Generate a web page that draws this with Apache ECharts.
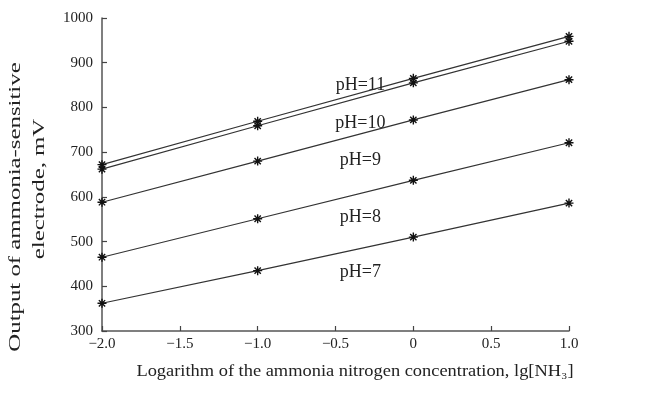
<!DOCTYPE html>
<html>
<head>
<meta charset="utf-8">
<style>
  html, body { margin: 0; padding: 0; background: #fff; }
  #chart { width: 647px; height: 394px; }
</style>
<script src="https://cdn.jsdelivr.net/npm/echarts@6/dist/echarts.min.js"></script>
</head>
<body>
<div id="chart"></div>
<script>
// lg[NH3] values where the electrode output was measured
const lgNH3 = [-2, -1, 0, 1];

// electrode output (mV) for each pH
const pH7 = [362, 435, 510, 586];
const pH8 = [465, 551, 637, 721];
const pH9 = [588, 680, 772, 862];
const pH10 = [662, 759, 855, 948];
const pH11 = [672, 769, 865, 959];

const seriesNames = ['pH=7', 'pH=8', 'pH=9', 'pH=10', 'pH=11'];
const seriesValues = [pH7, pH8, pH9, pH10, pH11];

// where each curve's name is written, in axis units
const labelAt = [
  [-0.34, 432],
  [-0.34, 555],
  [-0.34, 682],
  [-0.34, 765],
  [-0.34, 850]
];

const FONT = '"Liberation Serif", "DejaVu Serif", serif';
const INK = '#222';

function tickText(v) {
  if (v === 0) return '0';
  const s = Math.abs(v).toFixed(1);
  return v < 0 ? '\u2212' + s : s;
}

// asterisk-like marker drawn as strokes
const starMarker = 'path://M5,0L5,10M0,5L10,5M1.5,1.5L8.5,8.5M1.5,8.5L8.5,1.5';

const chart = echarts.init(document.getElementById('chart'), null, { renderer: 'canvas' });

const series = seriesNames.map((name, i) => ({
  name: name,
  type: 'line',
  data: lgNH3.map((x, j) => [x, seriesValues[i][j]]),
  symbol: starMarker,
  symbolSize: 9,
  showSymbol: true,
  lineStyle: { color: '#333', width: 1.2 },
  itemStyle: { color: 'rgba(0,0,0,0)', borderColor: '#111', borderWidth: 1.4 },
  emphasis: { disabled: true },
  z: 3,
  markPoint: {
    symbol: 'circle',
    symbolSize: 0,
    silent: true,
    label: {
      show: true,
      position: 'inside',
      formatter: name,
      fontFamily: FONT,
      fontSize: 18,
      color: INK
    },
    data: [{ coord: labelAt[i] }]
  }
}));

chart.setOption({
  animation: false,
  backgroundColor: '#fff',
  grid: { left: 102, right: 78, top: 18, bottom: 63, containLabel: false },
  xAxis: {
    type: 'value',
    min: -2,
    max: 1,
    interval: 0.5,
    axisLine: { show: true, onZero: false, lineStyle: { color: '#555', width: 1.5 } },
    axisTick: { show: true, inside: true, length: 5, lineStyle: { color: '#444', width: 1.2 } },
    axisLabel: {
      formatter: tickText,
      fontFamily: FONT,
      fontSize: 15,
      color: INK,
      margin: 6
    },
    splitLine: { show: false }
  },
  yAxis: {
    type: 'value',
    min: 300,
    max: 1000,
    interval: 100,
    axisLine: { show: true, onZero: false, lineStyle: { color: '#555', width: 1.5 } },
    axisTick: { show: true, inside: true, length: 5, lineStyle: { color: '#444', width: 1.2 } },
    axisLabel: {
      formatter: v => String(v),
      fontFamily: FONT,
      fontSize: 15,
      color: INK,
      margin: 9
    },
    splitLine: { show: false }
  },
  graphic: [
    {
      type: 'text',
      x: 355,
      y: 372,
      scaleX: 1.15,
      style: {
        text: 'Logarithm of the ammonia nitrogen concentration, lg[NH\u2083]',
        fontFamily: FONT,
        fontSize: 16,
        fill: INK,
        align: 'center',
        verticalAlign: 'middle'
      }
    },
    {
      type: 'text',
      x: 16,
      y: 207,
      rotation: Math.PI / 2,
      scaleX: 1.55,
      style: {
        text: 'Output of ammonia-sensitive',
        fontFamily: FONT,
        fontSize: 16,
        fill: INK,
        align: 'center',
        verticalAlign: 'middle'
      }
    },
    {
      type: 'text',
      x: 40,
      y: 189,
      rotation: Math.PI / 2,
      scaleX: 1.55,
      style: {
        text: 'electrode, mV',
        fontFamily: FONT,
        fontSize: 16,
        fill: INK,
        align: 'center',
        verticalAlign: 'middle'
      }
    }
  ],
  series: series
});
</script>
</body>
</html>
